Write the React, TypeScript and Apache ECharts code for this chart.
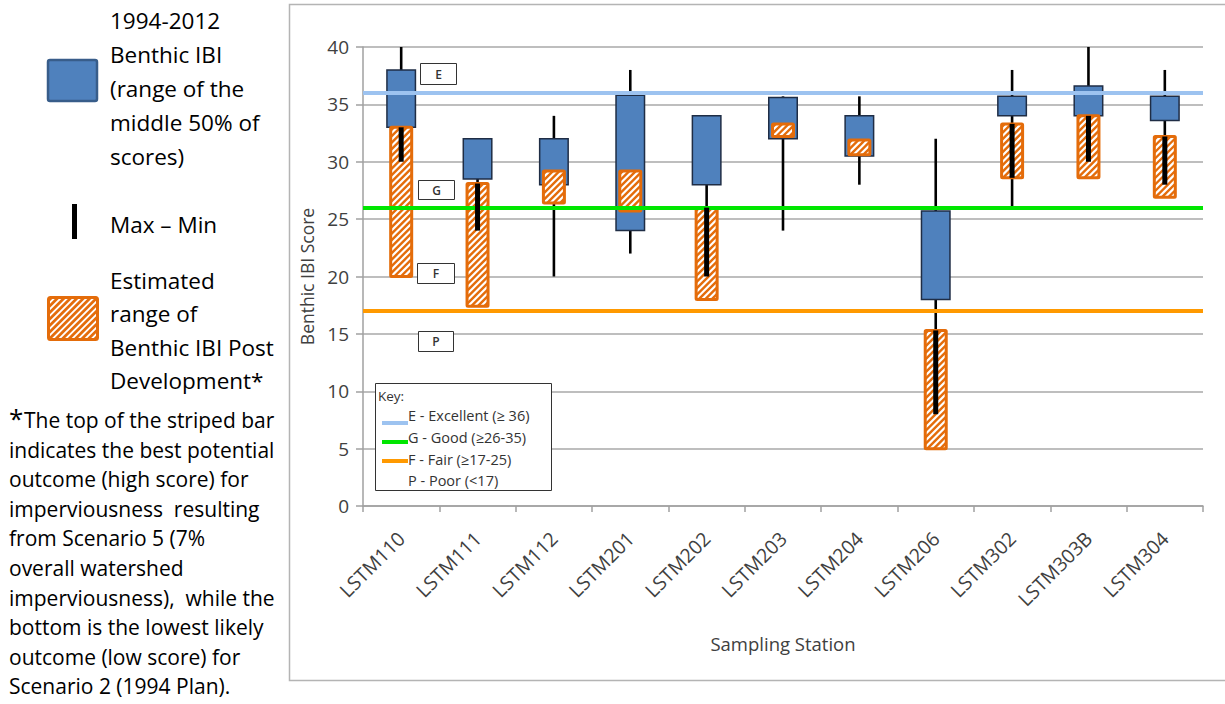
import React, { useEffect, useRef } from "react";
import * as echarts from "echarts";

const stations = ["LSTM110", "LSTM111", "LSTM112", "LSTM201", "LSTM202", "LSTM203", "LSTM204", "LSTM206", "LSTM302", "LSTM303B", "LSTM304"];
const maxScore = [40, 32, 34, 38, 34, 35.7, 35.7, 32, 38, 40, 38];
const minScore = [30, 24, 20, 22, 20, 24, 28, 8, 26, 30, 28];
const boxTop = [38, 32, 32, 35.8, 34, 35.6, 34, 25.7, 35.7, 36.6, 35.7];
const boxBottom = [33, 28.5, 28, 24, 28, 32, 30.5, 18, 34, 34, 33.6];
const postHigh = [33, 28.1, 29.2, 29.2, 26, 33.3, 31.9, 15.3, 33.3, 34, 32.2];
const postLow = [20, 17.4, 26.4, 25.7, 18, 32.2, 30.6, 5, 28.6, 28.6, 26.9];
const whiskerOverPost = [true, true, false, false, true, false, false, true, true, true, true];
const yTicks = { min: 0, max: 40, interval: 5 };
const thresholds = [
  { name: "E", value: 36, color: "#9DC3F0", key: "E - Excellent (\u2265 36)" },
  { name: "G", value: 26, color: "#00E600", key: "G - Good (\u226526-35)" },
  { name: "F", value: 17, color: "#FF9900", key: "F - Fair (\u226517-25)" },
];
const poorKey = "P - Poor (<17)";

const FONT = "'Open Sans', 'Noto Sans', sans-serif";
const ORANGE = "#E46C0A";
const BLUE = "#4F81BD";

function hatchLines(x0: number, y0: number, x1: number, y1: number, step: number, color: string, width: number) {
  const out: any[] = [];
  for (let c = x0 + y0 + step / 2; c < x1 + y1; c += step) {
    const xa = Math.max(x0, c - y1);
    const xb = Math.min(x1, c - y0);
    if (xb <= xa) continue;
    out.push({ type: "line", shape: { x1: xa, y1: c - xa, x2: xb, y2: c - xb }, style: { stroke: color, lineWidth: width } });
  }
  return out;
}

export default function App() {
  const ref = useRef<HTMLDivElement>(null);
  useEffect(() => {
    document.body.style.margin = "0";
    const chart = echarts.init(ref.current!, undefined, { renderer: "svg" });

    const whiskerData = stations.map((_, i) => [i, minScore[i], maxScore[i]]);
    const boxData = stations.map((_, i) => [i, boxBottom[i], boxTop[i]]);
    const postData = stations.map((_, i) => [i, postLow[i], postHigh[i]]);
    const thickData = stations
      .map((_, i) => [i, Math.max(minScore[i], postLow[i]), Math.min(maxScore[i], postHigh[i])])
      .filter((d, idx) => whiskerOverPost[idx] && d[2] > d[1]);

    const lineSeries = (w: number) => (params: any, api: any) => {
      const i = api.value(0);
      const a = api.coord([i, api.value(1)]);
      const b = api.coord([i, api.value(2)]);
      return { type: "line", shape: { x1: a[0], y1: a[1], x2: b[0], y2: b[1] }, style: { stroke: "#000", lineWidth: w } };
    };

    const g: any[] = [];
    // Legend: blue box
    g.push({ type: "rect", shape: { x: 48, y: 60, width: 49, height: 41, r: 2 }, style: { fill: BLUE, stroke: "#385D8A", lineWidth: 2.5 } });
    const legText = (lines: string[], y: number, gap: number) =>
      lines.forEach((t, k) => g.push({ type: "text", x: 110, y: y + k * gap, style: { text: t, font: `22.5px ${FONT}`, fill: "#000", verticalAlign: "middle" } }));
    legText(["1994-2012", "Benthic IBI", "(range of the", "middle 50% of", "scores)"], 20, 34.2);
    g.push({ type: "rect", shape: { x: 72, y: 204, width: 5, height: 35 }, style: { fill: "#000" } });
    legText(["Max \u2013 Min"], 224, 0);
    g.push({ type: "rect", shape: { x: 48.5, y: 297.5, width: 49, height: 42, r: 2 }, style: { fill: "#fff" } });
    hatchLines(48.5, 297.5, 97.5, 339.5, 6.5, ORANGE, 2.6).forEach((l) => g.push(l));
    g.push({ type: "rect", shape: { x: 48.5, y: 297.5, width: 49, height: 42, r: 2 }, style: { fill: "none", stroke: ORANGE, lineWidth: 3 } });
    legText(["Estimated", "range of", "Benthic IBI Post", "Development*"], 280, 33.5);

    // Footnote
    g.push({ type: "text", x: 9, y: 418, style: { text: "*", font: `26px ${FONT}`, fill: "#000", verticalAlign: "middle" } });
    const foot = ["The top of the striped bar", "indicates the best potential", "outcome (high score) for", "imperviousness  resulting", "from Scenario 5 (7%", "overall watershed", "imperviousness),  while the", "bottom is the lowest likely", "outcome (low score) for", "Scenario 2 (1994 Plan)."];
    foot.forEach((t, k) =>
      g.push({ type: "text", x: k === 0 ? 24 : 9, y: 420 + k * 29.6, style: { text: t, font: `21px ${FONT}`, fill: "#000", verticalAlign: "middle" } })
    );

    // Chart frame
    g.push({ type: "rect", z: -10, shape: { x: 289.5, y: 4.5, width: 1000, height: 676 }, style: { fill: "none", stroke: "#B4B4B4", lineWidth: 1.5 } });

    // Letter boxes
    const letterBoxes = [
      { t: "E", x: 420, y: 63, w: 36, h: 21 },
      { t: "G", x: 418, y: 180, w: 36, h: 19 },
      { t: "F", x: 417, y: 263, w: 37, h: 20 },
      { t: "P", x: 418, y: 331, w: 35, h: 20 },
    ];
    letterBoxes.forEach((b) => {
      g.push({ type: "rect", z: 20, shape: { x: b.x + 0.5, y: b.y + 0.5, width: b.w, height: b.h }, style: { fill: "#fff", stroke: "#333", lineWidth: 1 } });
      g.push({ type: "text", z: 21, x: b.x + b.w / 2 + 0.5, y: b.y + b.h / 2 + 0.5, style: { text: b.t, font: `600 12px ${FONT}`, fill: "#333", align: "center", verticalAlign: "middle" } });
    });

    // Key box
    g.push({ type: "rect", z: 20, shape: { x: 375.5, y: 383.5, width: 176, height: 107 }, style: { fill: "#fff", stroke: "#333", lineWidth: 1 } });
    g.push({ type: "text", z: 21, x: 378, y: 396, style: { text: "Key:", font: `13.5px ${FONT}`, fill: "#333", verticalAlign: "middle" } });
    const keyY = [415, 437, 459];
    const keyLineY = [423, 442, 461];
    thresholds.forEach((th, k) => {
      g.push({ type: "line", z: 21, shape: { x1: 382, y1: keyLineY[k], x2: 408, y2: keyLineY[k] }, style: { stroke: th.color, lineWidth: 4 } });
      g.push({ type: "text", z: 21, x: 408, y: keyY[k], style: { text: th.key, font: `14.5px ${FONT}`, fill: "#333", verticalAlign: "middle" } });
    });
    g.push({ type: "text", z: 21, x: 408, y: 480, style: { text: poorKey, font: `14.5px ${FONT}`, fill: "#333", verticalAlign: "middle" } });

    chart.setOption({
      animation: false,
      grid: { left: 363, right: 22, top: 47, bottom: 198 },
      xAxis: {
        type: "category",
        data: stations,
        name: "Sampling Station",
        nameLocation: "middle",
        nameGap: 128,
        nameTextStyle: { fontSize: 18.5, color: "#404040", fontFamily: FONT },
        axisLine: { lineStyle: { color: "#A0A0A0", width: 1.5 } },
        axisTick: { show: true, length: 6, lineStyle: { color: "#A0A0A0", width: 1.5 } },
        axisLabel: { rotate: 45, fontSize: 19.5, color: "#404040", fontFamily: FONT, margin: 29, interval: 0 },
        splitLine: { show: false },
      },
      yAxis: {
        type: "value",
        min: yTicks.min,
        max: yTicks.max,
        interval: yTicks.interval,
        name: "Benthic IBI Score",
        nameLocation: "middle",
        nameGap: 43,
        nameTextStyle: { fontSize: 17.5, color: "#404040", fontFamily: FONT },
        axisLine: { show: true, lineStyle: { color: "#A0A0A0", width: 1.5 } },
        axisTick: { show: true, length: 7, lineStyle: { color: "#A0A0A0", width: 1.5 } },
        axisLabel: { fontSize: 19, color: "#404040", fontFamily: FONT, margin: 14 },
        splitLine: { lineStyle: { color: "#A8A8A8", width: 1.5 } },
      },
      graphic: g,
      series: [
        {
          type: "custom",
          name: "Max \u2013 Min",
          z: 2,
          encode: { x: 0, y: [1, 2] },
          renderItem: lineSeries(2.6),
          data: whiskerData,
        },
        {
          type: "custom",
          name: "1994-2012 Benthic IBI",
          z: 3,
          encode: { x: 0, y: [1, 2] },
          renderItem: (params: any, api: any) => {
            const i = api.value(0);
            const a = api.coord([i, api.value(1)]);
            const b = api.coord([i, api.value(2)]);
            const w = 30;
            return { type: "rect", shape: { x: a[0] - w / 2 + 0.75, y: b[1], width: w - 1.5, height: a[1] - b[1] }, style: { fill: BLUE, stroke: "#1F2D45", lineWidth: 1.5 } };
          },
          data: boxData,
        },
        {
          type: "custom",
          name: "Estimated range of Benthic IBI Post Development",
          z: 4,
          encode: { x: 0, y: [1, 2] },
          renderItem: (params: any, api: any) => {
            const i = api.value(0);
            const a = api.coord([i, api.value(1)]);
            const b = api.coord([i, api.value(2)]);
            const w = 24;
            const x0 = a[0] - w / 2 + 1.5;
            const x1 = a[0] + w / 2 - 1.5;
            const y0 = b[1];
            const y1 = a[1];
            const children: any[] = [{ type: "rect", shape: { x: x0, y: y0, width: x1 - x0, height: y1 - y0 }, style: { fill: "#fff" } }];
            hatchLines(x0, y0, x1, y1, 6.5, ORANGE, 2.4).forEach((l) => children.push(l));
            children.push({ type: "rect", shape: { x: x0, y: y0, width: x1 - x0, height: y1 - y0, r: 1 }, style: { fill: "none", stroke: ORANGE, lineWidth: 3 } });
            return { type: "group", children };
          },
          data: postData,
        },
        {
          type: "line",
          name: "thresholds",
          z: 5,
          data: [],
          markLine: {
            silent: true,
            symbol: "none",
            label: { show: false },
            data: thresholds.map((th) => ({ yAxis: th.value, lineStyle: { color: th.color, width: 4, type: "solid" } })),
          },
        },
        {
          type: "custom",
          name: "Max \u2013 Min overlay",
          z: 6,
          encode: { x: 0, y: [1, 2] },
          renderItem: lineSeries(5),
          data: thickData,
        },
      ],
    });
    return () => chart.dispose();
  }, []);
  return <div ref={ref} style={{ width: 1225, height: 704 }} />;
}
